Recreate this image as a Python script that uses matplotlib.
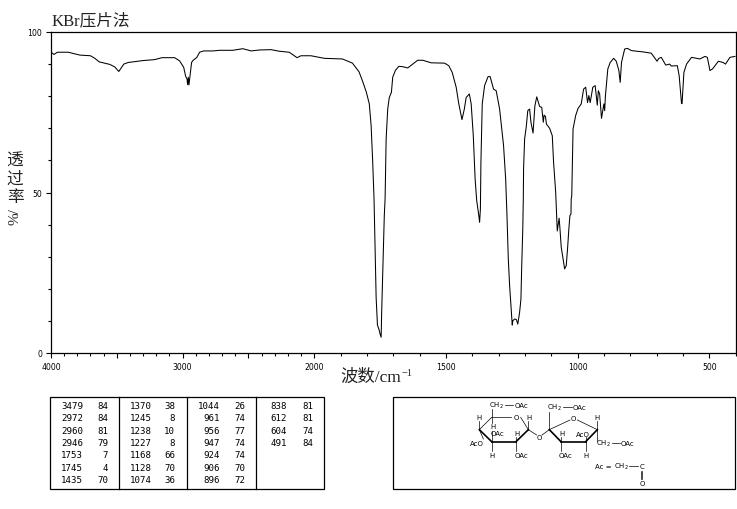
import numpy as np
import matplotlib
matplotlib.use("Agg")
import matplotlib.pyplot as plt

# spectrum
wavenumber = [4000, 3977, 3952, 3869, 3780, 3700, 3667, 3634, 3553, 3515, 3485, 3447, 3414, 3301, 3212, 3157,
              3061, 3023, 2992, 2977, 2967, 2962, 2957, 2952, 2945, 2932, 2922, 2892, 2871, 2841, 2770, 2720,
              2619, 2543, 2480, 2417, 2328, 2265, 2190, 2131, 2101, 2025, 1962, 1893, 1855, 1830, 1817, 1802,
              1791, 1784, 1778, 1773, 1769, 1765, 1760, 1754, 1750, 1746, 1744, 1739, 1734, 1731, 1727, 1721,
              1715, 1707, 1702, 1692, 1679, 1664, 1645, 1626, 1607, 1588, 1556, 1505, 1489, 1476, 1461, 1451,
              1439, 1430, 1423, 1411, 1404, 1396, 1389, 1383, 1375, 1372, 1369, 1367, 1362, 1353, 1340, 1332,
              1319, 1309, 1296, 1281, 1273, 1268, 1263, 1258, 1253, 1248, 1246, 1239, 1232, 1227, 1220, 1215,
              1212, 1208, 1206, 1205, 1201, 1195, 1189, 1182, 1177, 1169, 1162, 1155, 1144, 1136, 1130, 1127,
              1122, 1118, 1106, 1096, 1091, 1083, 1080, 1077, 1070, 1067, 1062, 1055, 1049, 1043, 1038, 1033,
              1029, 1025, 1024, 1022, 1017, 1007, 998, 986, 977, 969, 962, 957, 952, 942, 933, 925, 921, 916,
              909, 904, 900, 897, 894, 885, 876, 863, 853, 843, 838, 833, 821, 811, 795, 751, 720, 698, 691,
              682, 665, 650, 644, 621, 614, 605, 603, 596, 586, 567, 535, 516, 507, 497, 487, 465, 447, 438,
              421, 402]
transmittance = [93.7, 93.0, 93.7, 93.7, 92.8, 92.6, 91.8, 90.7, 89.9, 89.1, 87.7, 90.0, 90.5, 91.1, 91.4, 92.0,
                 92.0, 91.0, 89.0, 86.2, 85.4, 83.6, 85.9, 83.5, 85.9, 90.5, 91.1, 92.1, 93.7, 94.1, 94.1, 94.3,
                 94.3, 94.8, 94.1, 94.4, 94.5, 94.0, 93.7, 92.0, 92.6, 92.6, 91.8, 91.6, 90.3, 87.6, 84.8, 81.2,
                 77.6, 70.8, 59.4, 48.0, 32.4, 17.3, 8.7, 7.3, 5.9, 4.9, 12.7, 28.2, 42.8, 48.0, 66.7, 76.0,
                 79.6, 81.2, 85.9, 88.0, 89.3, 89.2, 88.8, 90.0, 91.2, 91.2, 90.4, 90.3, 89.5, 87.4, 82.8, 77.6,
                 72.7, 76.0, 79.6, 80.7, 77.6, 67.7, 54.2, 47.5, 42.8, 40.7, 44.9, 59.4, 77.6, 83.3, 86.1, 86.1,
                 82.2, 81.7, 76.0, 64.6, 54.2, 42.8, 29.3, 21.0, 14.8, 8.7, 10.0, 10.6, 10.4, 9.0, 12.7, 16.8,
                 27.2, 38.6, 48.0, 57.3, 66.7, 70.3, 75.5, 76.0, 71.9, 68.5, 77.0, 79.8, 76.8, 76.5, 71.9, 74.1,
                 73.7, 71.3, 70.0, 67.7, 59.4, 50.0, 43.8, 38.0, 42.0, 39.0, 33.0, 29.3, 26.2, 27.2, 32.4, 38.6,
                 42.8, 43.3, 48.0, 49.0, 69.8, 74.0, 76.2, 77.6, 82.2, 82.8, 78.0, 80.2, 78.0, 82.8, 83.3, 77.2,
                 81.7, 80.7, 73.1, 75.5, 77.6, 75.5, 80.2, 88.5, 90.5, 91.8, 90.9, 88.0, 84.3, 90.5, 94.7, 94.9,
                 94.2, 93.8, 93.4, 90.9, 91.8, 92.1, 89.7, 90.0, 89.4, 89.5, 86.4, 77.7, 77.7, 87.4, 90.0, 92.1,
                 91.6, 92.4, 92.1, 88.0, 88.5, 90.9, 90.5, 90.0, 92.1, 92.4]

peak_columns = [
    [("3479", "84"), ("2972", "84"), ("2960", "81"), ("2946", "79"), ("1753", "7"), ("1745", "4"), ("1435", "70")],
    [("1370", "38"), ("1245", "8"), ("1238", "10"), ("1227", "8"), ("1168", "66"), ("1128", "70"), ("1074", "36")],
    [("1044", "26"), ("961", "74"), ("956", "77"), ("947", "74"), ("924", "74"), ("906", "70"), ("896", "72")],
    [("838", "81"), ("612", "81"), ("604", "74"), ("491", "84")],
]
x_labeled = [4000, 3000, 2000, 1500, 1000, 500]
x_major = [4000, 3500, 3000, 2500, 2000, 1500, 1000, 500]
y_labeled = [100, 50, 0]

CJK = ["Liberation Serif", "Noto Sans CJK SC", "DejaVu Sans"]


# the wavenumber axis is squeezed by 2 above 2000
def forward(w):
    w = np.asarray(w, dtype=float)
    return np.where(w > 2000, 2000 + (w - 2000) / 2, w)


def inverse(u):
    u = np.asarray(u, dtype=float)
    return np.where(u > 2000, 2000 + (u - 2000) * 2, u)


W, H = 737, 510
fig = plt.figure(figsize=(W / 100, H / 100), dpi=100)
ax = fig.add_axes([51 / W, 1 - 354 / H, 684.5 / W, 321 / H])
ax.set_xscale("function", functions=(forward, inverse))
ax.plot(wavenumber, transmittance, color="black", lw=0.75)
ax.set_xlim(4000, 400)
ax.set_ylim(0, 100)

ax.set_xticks(x_major)
ax.set_xticklabels([str(v) if v in x_labeled else "" for v in x_major], fontsize=5.6)
ax.set_xticks(np.arange(400, 4001, 100), minor=True)
ax.set_yticks(y_labeled)
ax.set_yticklabels([str(v) for v in y_labeled], fontsize=5.6)
ax.set_yticks(np.arange(0, 101, 10), minor=True)
ax.tick_params(which="major", length=3.8, width=0.8, pad=2.5)
ax.tick_params(which="minor", length=2.2, width=0.8)
for s in ax.spines.values():
    s.set_linewidth(0.9)

# overlay in pixel coordinates for titles, table and structure
ov = fig.add_axes([0, 0, 1, 1])
ov.set_xlim(0, W)
ov.set_ylim(H, 0)
ov.axis("off")
ov.patch.set_alpha(0)

ov.text(52, 21, "KBr压片法", family=CJK, fontsize=12, ha="left", va="center", color="#222222")
ov.text(340, 378, "波数/cm", family=CJK, fontsize=12.5, ha="left", va="center", color="#222222")
ov.text(402, 374, "−1", family=CJK, fontsize=7.5, ha="left", va="center", color="#222222")
for ch, yy in [("透", 162), ("过", 180), ("率", 198)]:
    ov.text(15, yy, ch, family=CJK, fontsize=12, ha="center", va="center", color="#222222")
ov.text(15, 217, "%/", family=CJK, fontsize=11, rotation=90, ha="center", va="center", color="#222222")

# peak table
ov.add_patch(plt.Rectangle((50.5, 397.5), 274, 92, fill=False, lw=0.9, ec="black"))
for xx in [119.5, 187.5, 256.5]:
    ov.plot([xx, xx], [397.5, 489.5], color="black", lw=0.9)
row_y = [406.7, 419, 431.7, 443.3, 455.7, 468.3, 481]
col_right = [(83, 108), (152, 175), (220, 245), (287, 313)]
for col, (xa, xb) in zip(peak_columns, col_right):
    for (a, b), yy in zip(col, row_y):
        ov.text(xa, yy, a, family="DejaVu Sans Mono", fontsize=6.6, ha="right", va="center")
        ov.text(xb, yy, b, family="DejaVu Sans Mono", fontsize=6.6, ha="right", va="center")

# structure box, coordinates as in a 3x crop of the box corner
ov.add_patch(plt.Rectangle((393.5, 397.5), 342, 92, fill=False, lw=0.9, ec="black"))


def sx(v):
    return 390 + v / 3


def sy(v):
    return 390 + v / 3


thin = [
    ((305, 85), (362, 85)), ((392, 85), (415, 122)), ((268, 122), (305, 85)), ((305, 85), (305, 60)),
    ((345, 47), (370, 47)), ((268, 95), (268, 122)), ((305, 85), (305, 103)), ((305, 158), (305, 125)),
    ((305, 158), (305, 185)), ((378, 145), (378, 158)), ((378, 158), (378, 185)), ((415, 97), (415, 122)),
    ((415, 122), (440, 138)), ((456, 138), (478, 122)), ((478, 122), (540, 93)), ((562, 93), (622, 122)),
    ((478, 122), (478, 70)), ((520, 53), (545, 53)), ((622, 97), (622, 122)), ((622, 122), (622, 155)),
    ((665, 162), (690, 162)), ((587, 145), (587, 158)), ((513, 145), (513, 158)), ((513, 158), (513, 185)),
    ((587, 158), (587, 185)), ((718, 232), (745, 232)), ((757, 245), (757, 270)), ((752, 245), (752, 270)),
    ((268, 122), (280, 150)),
]
thick = [
    ((268, 122), (305, 158)), ((305, 158), (378, 158)), ((378, 158), (415, 122)),
    ((478, 122), (513, 158)), ((513, 158), (587, 158)), ((587, 158), (622, 122)),
]
for (a, b) in thin:
    ov.plot([sx(a[0]), sx(b[0])], [sy(a[1]), sy(b[1])], color="black", lw=0.5)
for (a, b) in thick:
    ov.plot([sx(a[0]), sx(b[0])], [sy(a[1]), sy(b[1])], color="black", lw=1.2)

labels = [
    (320, 47, "CH$_2$"), (395, 47, "OAc"), (378, 85, "O"), (268, 85, "H"), (310, 110, "H"), (322, 133, "OAc"),
    (262, 162, "AcO"), (305, 197, "H"), (380, 133, "H"), (395, 197, "OAc"), (418, 85, "H"), (448, 145, "O"),
    (550, 88, "O"), (493, 53, "CH$_2$"), (568, 53, "OAc"), (622, 85, "H"), (640, 162, "CH$_2$"), (712, 162, "OAc"),
    (578, 135, "AcO"), (515, 133, "H"), (528, 197, "OAc"), (587, 197, "H"), (640, 232, "Ac ="), (695, 232, "CH$_2$"),
    (757, 232, "C"), (757, 282, "O"),
]
for xx, yy, s in labels:
    ov.text(sx(xx), sy(yy), s, fontsize=5, ha="center", va="center", family="DejaVu Sans")

fig.savefig("out.png", dpi=100, facecolor="white")
